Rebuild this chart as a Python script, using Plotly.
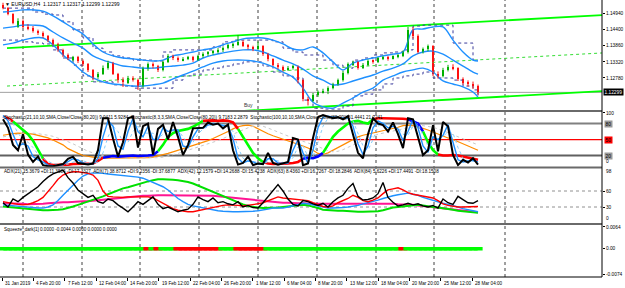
import plotly.graph_objects as go

# ---------------- data ----------------
date_labels = ["31 Jan 2019", "4 Feb 20:00", "7 Feb 12:00", "12 Feb 04:00", "14 Feb 20:00",
               "19 Feb 12:00", "22 Feb 04:00", "26 Feb 20:00", "1 Mar 12:00", "6 Mar 04:00",
               "8 Mar 20:00", "13 Mar 12:00", "18 Mar 04:00", "20 Mar 20:00", "25 Mar 12:00",
               "28 Mar 04:00"]

opens = [1.1524,1.1512,1.1492,1.1450,1.1470,1.1450,1.1444,1.1436,1.1428,1.1418,
         1.1404,1.1392,1.1372,1.1355,1.1338,1.1348,1.1335,1.1325,1.1305,1.1281,
         1.1292,1.1311,1.1328,1.1291,1.1271,1.1262,1.1279,1.1272,1.1250,1.1310,
         1.1325,1.1318,1.1305,1.1332,1.1350,1.1345,1.1338,1.1343,1.1348,1.1338,
         1.1350,1.1360,1.1362,1.1366,1.1372,1.1380,1.1388,1.1390,1.1400,1.1386,
         1.1382,1.1376,1.1385,1.1358,1.1340,1.1322,1.1314,1.1308,1.1312,1.1316,
         1.1270,1.1208,1.1202,1.1222,1.1230,1.1236,1.1244,1.1258,1.1270,1.1296,
         1.1324,1.1330,1.1312,1.1322,1.1336,1.1332,1.1344,1.1348,1.1344,1.1350,
         1.1352,1.1364,1.1438,1.1420,1.1366,1.1374,1.1384,1.1292,1.1284,1.1306,
         1.1316,1.1310,1.1274,1.1262,1.1258,1.1252]
highs = [1.1530,1.1516,1.1495,1.1478,1.1474,1.1458,1.1452,1.1440,1.1434,1.1422,
         1.1410,1.1396,1.1376,1.1360,1.1352,1.1352,1.1340,1.1328,1.1308,1.1298,
         1.1320,1.1336,1.1332,1.1295,1.1280,1.1285,1.1284,1.1276,1.1316,1.1330,
         1.1330,1.1322,1.1336,1.1358,1.1356,1.1350,1.1348,1.1352,1.1352,1.1356,
         1.1364,1.1368,1.1372,1.1378,1.1384,1.1392,1.1396,1.1422,1.1404,1.1392,
         1.1386,1.1400,1.1388,1.1362,1.1344,1.1328,1.1320,1.1318,1.1322,1.1320,
         1.1274,1.1215,1.1228,1.1236,1.1242,1.1250,1.1262,1.1276,1.1302,1.1330,
         1.1336,1.1334,1.1328,1.1340,1.1340,1.1348,1.1352,1.1352,1.1354,1.1358,
         1.1370,1.1449,1.1448,1.1424,1.1380,1.1390,1.1388,1.1300,1.1312,1.1322,
         1.1324,1.1314,1.1280,1.1270,1.1266,1.1256]
lows = [1.1508,1.1488,1.1458,1.1446,1.1445,1.1438,1.1430,1.1422,1.1412,1.1398,
        1.1386,1.1366,1.1348,1.1338,1.1334,1.1328,1.1318,1.1298,1.1271,1.1275,
        1.1288,1.1306,1.1288,1.1262,1.1248,1.1258,1.1266,1.1238,1.1246,1.1302,
        1.1310,1.1298,1.1300,1.1328,1.1338,1.1332,1.1334,1.1338,1.1332,1.1335,
        1.1346,1.1352,1.1356,1.1360,1.1365,1.1374,1.1378,1.1386,1.1382,1.1374,
        1.1368,1.1372,1.1352,1.1334,1.1318,1.1308,1.1300,1.1302,1.1306,1.1260,
        1.1200,1.1186,1.1198,1.1215,1.1226,1.1224,1.1240,1.1252,1.1266,1.1290,
        1.1318,1.1306,1.1308,1.1318,1.1326,1.1328,1.1338,1.1336,1.1340,1.1344,
        1.1348,1.1360,1.1410,1.1360,1.1360,1.1368,1.1284,1.1276,1.1280,1.1300,
        1.1304,1.1268,1.1256,1.1250,1.1242,1.1222]
closes = [1.1512,1.1492,1.1463,1.1470,1.1450,1.1444,1.1436,1.1428,1.1418,1.1404,
          1.1392,1.1372,1.1355,1.1345,1.1348,1.1335,1.1325,1.1305,1.1281,1.1292,
          1.1311,1.1328,1.1291,1.1271,1.1265,1.1279,1.1272,1.1250,1.1310,1.1325,
          1.1318,1.1305,1.1332,1.1350,1.1345,1.1338,1.1343,1.1348,1.1338,1.1350,
          1.1360,1.1362,1.1366,1.1372,1.1380,1.1388,1.1390,1.1400,1.1386,1.1382,
          1.1376,1.1385,1.1358,1.1340,1.1322,1.1314,1.1308,1.1312,1.1316,1.1270,
          1.1208,1.1202,1.1222,1.1230,1.1236,1.1244,1.1258,1.1270,1.1296,1.1324,
          1.1330,1.1312,1.1322,1.1336,1.1332,1.1344,1.1348,1.1344,1.1350,1.1352,
          1.1364,1.1438,1.1420,1.1366,1.1374,1.1384,1.1292,1.1284,1.1306,1.1316,
          1.1310,1.1274,1.1262,1.1258,1.1252,1.12299]

# Bollinger bands (sampled every second candle + last)
bb_upper = [1.1499,1.1502,1.1506,1.1506,1.1502,1.1486,1.1466,1.1445,1.1425,1.1392,
            1.1365,1.1352,1.1345,1.1342,1.1338,1.1335,1.1338,1.1352,1.1358,1.1365,
            1.1372,1.1378,1.1389,1.1399,1.1409,1.1412,1.1412,1.1405,1.1392,1.1375,
            1.1372,1.1382,1.1362,1.1332,1.1305,1.1328,1.1338,1.1345,1.1352,1.1358,
            1.1365,1.1439,1.1442,1.1449,1.1449,1.1405,1.1365,1.1338,1.1335]
bb_mid = [1.1445,1.1449,1.1455,1.1455,1.1452,1.1432,1.1412,1.1395,1.1378,1.1352,
          1.1338,1.1328,1.1318,1.1315,1.1311,1.1311,1.1315,1.1318,1.1321,1.1328,
          1.1345,1.1355,1.1362,1.1368,1.1372,1.1372,1.1365,1.1352,1.1338,1.1325,
          1.1308,1.1285,1.1271,1.1255,1.1258,1.1268,1.1278,1.1288,1.1301,1.1311,
          1.1325,1.1352,1.1365,1.1368,1.1358,1.1338,1.1318,1.1298,1.1291]
bb_lower = [1.1389,1.1395,1.1405,1.1412,1.1412,1.1389,1.1355,1.1328,1.1298,1.1278,
            1.1265,1.1258,1.1255,1.1251,1.1251,1.1255,1.1261,1.1275,1.1288,1.1301,
            1.1315,1.1328,1.1335,1.1338,1.1338,1.1335,1.1328,1.1315,1.1298,1.1281,
            1.1244,1.1197,1.1181,1.1177,1.1194,1.1211,1.1231,1.1244,1.1271,1.1285,
            1.1298,1.1305,1.1311,1.1298,1.1268,1.1258,1.1248,1.1231,1.1214]
env_upper = [1.1512,1.1512,1.1512,1.1499,1.1492,1.1489,1.1466,1.1439,1.1412,1.1378,
             1.1365,1.1352,1.1345,1.1338,1.1338,1.1335,1.1365,1.1372,1.1372,1.1372,
             1.1372,1.1382,1.1399,1.1405,1.1405,1.1405,1.1405,1.1399,1.1378,1.1365,
             1.1355,1.1355,1.1338,1.1321,1.1311,1.1338,1.1345,1.1355,1.1362,1.1365,
             1.1372,1.1452,1.1455,1.1455,1.1455,1.1395,1.1395,1.1338,1.1338]
env_lower = [1.1405,1.1405,1.1399,1.1395,1.1392,1.1372,1.1345,1.1321,1.1285,1.1265,
             1.1265,1.1255,1.1251,1.1244,1.1244,1.1244,1.1244,1.1271,1.1285,1.1291,
             1.1305,1.1311,1.1318,1.1325,1.1332,1.1332,1.1318,1.1298,1.1285,1.1278,
             1.1204,1.1177,1.1174,1.1174,1.1184,1.1218,1.1224,1.1238,1.1258,1.1278,
             1.1285,1.1291,1.1298,1.1278,1.1278,1.1271,1.1251,1.1238,1.1218]

# trend channel (anchor bar index, prices)
chan_x = [0.8, 120.0]
chan_upper = [1.1378, 1.1489]
chan_mid = [1.1251, 1.1362]
chan_lower = [1.1124, 1.1234]
last_price = 1.12299

# Stochastic window
stoch_fast = [88,72,40,30,60,22,8,18,2,0, 0,2,4,14,18,6,4,3,5,30,
              90,90,52,18,45,90,93,35,75,80, 22,70,78,50,83,55,21,40,71,72,
              72,82,78,80,71,78,30,3,6,18, 2,5,4,25,6,3,6,8,53,50,
              2,5,53,92,96,93,90,92,88,94, 58,25,15,60,90,80,77,65,82,60,
              34,90,88,55,21,30,77,28,83,75, 21,2,12,7,15,3]
stoch_fast_sig = [95,85,60,38,42,38,18,12,8,2, 1,1,3,8,14,12,6,4,4,15,
                  55,85,75,38,32,65,90,65,55,75, 50,50,72,65,68,68,38,35,55,70,
                  72,77,80,79,76,76,52,15,6,10, 8,4,4,14,14,6,5,6,30,50,
                  25,5,30,72,92,94,92,91,90,91, 75,42,22,38,72,85,80,72,75,70,
                  48,65,88,72,38,26,55,50,58,78, 45,12,8,9,11,8]
stoch_fast_sig2 = [92,90,80,62,50,45,35,22,15,9, 5,3,2,4,8,11,10,7,5,8,
                   25,55,75,65,45,45,65,75,62,62, 62,52,60,66,66,68,55,42,45,60,
                   70,74,78,80,78,76,65,35,15,10, 9,7,5,8,12,10,7,6,16,36,
                   38,18,18,45,75,90,93,92,91,90, 85,62,38,30,50,75,82,78,75,72,
                   60,58,75,80,58,38,40,50,55,65, 62,35,15,10,9,10]
stoch_mid = [93,90,84,76,68,60,48,32,14,4, 2,2,2,3,4,4,4,4,5,10,
             16,18,19,18,19,20,20,19,19,20, 21,28,40,55,62,66,68,70,74,80,
             85,86,86,85,86,85,82,70,55,40, 25,15,8,5,4,4,4,5,6,8,
             14,16,15,18,25,40,55,65,72,80, 84,85,82,80,88,90,90,90,89,90,
             89,88,84,80,65,45,30,22,20,20, 21,20,18,16,14,12]
stoch_mid_state = ("rr" + "gggggg" + "rrrrrrrrrrrr" + "bbbbbbbbbbb" + "ggggggggg" +
                   "rrrrrrr" + "ggggg" + "rrrrrrrr" + "bbbb" + "gggggggggg" +
                   "rrrrrrr" + "bbb" + "ggg" + "rrrrrrrrr")
stoch_slow = [58,60,61,62,62,61,60,58,56,53, 49,45,40,33,28,24,20,18,17,16,
              15,15,15,15,15,15,15,16,16,16, 17,19,21,24,27,30,33,36,39,41,
              44,48,52,56,60,65,70,74,76,77, 75,70,65,61,57,54,50,47,45,42,
              38,34,30,24,22,25,30,35,40,45, 50,55,58,60,62,64,66,68,70,73,
              76,77,76,74,71,68,64,60,57,53, 50,46,42,38,34,30]
stoch_slow_sig = [55,57,58,60,61,62,62,61,60,58, 56,53,50,46,42,37,32,28,25,22,
                  20,18,17,16,16,15,15,15,15,16, 16,16,17,19,21,24,27,30,33,36,
                  39,41,44,48,52,56,60,65,69,72, 75,76,75,72,68,64,60,56,53,50,
                  47,44,41,37,33,29,27,28,31,35, 40,44,49,53,57,60,62,64,66,68,
                  70,72,74,76,76,75,73,70,67,63, 59,55,51,47,43,40]
stoch_levels = [80, 50, 20]

# ADX window
adx_black = [38,30,45,40,48,55,62,68,78,86, 92,96,99,85,75,62,55,48,52,40,
             37,45,42,34,28,21,30,40,35,42, 49,35,27,30,25,21,24,26,35,49,
             44,40,47,38,40,36,34,40,30,33, 29,28,38,50,60,72,60,45,35,32,
             42,40,36,33,37,30,40,47,52,65, 74,50,43,44,47,55,76,48,39,32,
             34,37,34,36,32,30,33,28,45,38, 35,50,44,38,37,42]
adx_red = [40,38,36,35,34,35,38,42,48,58, 70,82,90,94,96,96,95,93,90,80,
           60,50,49,48,48,49,49,49,49,49, 47,42,37,32,27,24,22,21,21,23,
           26,28,30,31,33,34,34,33,32,33, 34,36,38,42,46,49,47,46,45,45,
           44,42,38,34,31,30,32,38,42,46, 52,48,42,40,43,47,55,62,64,66,
           62,57,54,52,50,48,47,42,36,33, 31,30,30,30,30,31]
adx_blue = [34,33,32,31,30,29,28,28,28,30, 34,42,52,62,72,80,88,92,94,94,
            93,92,91,90,90,89,88,86,84,80, 76,72,68,62,54,46,40,35,32,30,
            28,26,24,23,22,21,21,21,21,21, 22,23,24,26,28,28,28,30,32,35,
            37,36,34,32,29,28,28,28,29,30, 31,33,36,38,40,43,46,49,51,53,
            55,56,54,52,48,45,43,40,37,35, 33,30,27,25,23,21]
adx_green = [31,30,29,28,27,26,25,24,24,24, 24,25,26,28,31,34,37,40,43,47,
             50,54,58,62,65,67,70,73,76,78, 80,82,82,82,81,80,79,77,74,70,
             66,62,58,54,50,46,42,38,35,32, 30,29,28,28,28,29,30,31,32,33,
             34,33,31,28,25,24,24,23,23,22, 22,21,21,21,21,22,24,27,29,30,
             31,33,34,34,33,31,30,29,28,26, 25,23,22,21,20,19]
adx_magenta = [37,37,36,36,36,35,35,35,36,37, 38,38,39,39,40,40,41,41,42,42,
               43,44,45,46,47,48,49,50,51,51, 52,52,52,52,52,52,52,52,52,52,
               52,51,51,50,49,48,47,46,45,44, 43,42,41,40,40,39,38,38,37,37,
               37,36,36,36,36,36,36,36,36,36, 36,36,36,37,37,37,37,36,36,35,
               35,34,34,33,32,31,30,29,28,27, 26,25,24,22,21,20]

# Squeeze window (0 = green dot, 1 = red dot), all plotted at value 0
squeeze_state = [0,0,0,0,0,0,0,0,0,0, 0,0,0,0,0,0,0,0,0,0,
                 0,0,0,0,0,0,0,0,0,1, 0,1,0,0,0,1,1,1,1,1,
                 1,1,1,1,0,0,0,1,1,1, 1,1,1,0,0,0,0,0,0,0,
                 0,0,0,0,0,0,0,0,0,0, 0,0,0,0,0,0,0,0,0,0,
                 1,0,0,0,0,0,0,0,0,0, 0,0,0,0,0,0]
squeeze_value = [0.0] * len(squeeze_state)

price_ticks = [1.14940, 1.14400, 1.13860, 1.13320, 1.12780, 1.11700]

# ---------------- figure ----------------
W, H = 625, 288
ML, MR, MT, MB = 0, 23, 0, 11
PH = H - MT - MB           # plot height in px
N = len(closes)
idx = list(range(N))
bb_idx = list(range(0, N, 2)) + [N - 1]


def py(px):  # pixel row -> paper y
    return (PH - px) / PH


FONT = "Liberation Sans"
FS = 4.6
FSA = 4.8
UP, DN = "#00b000", "#ff1010"

fig = go.Figure()

# main panel
fig.add_trace(go.Scatter(x=chan_x, y=chan_mid, mode="lines",
                         line=dict(color="#33dd33", width=1, dash="dot"), yaxis="y"))
fig.add_trace(go.Scatter(x=chan_x, y=chan_upper, mode="lines",
                         line=dict(color="#00ff00", width=1.8), yaxis="y"))
fig.add_trace(go.Scatter(x=chan_x, y=chan_lower, mode="lines",
                         line=dict(color="#00ff00", width=1.8), yaxis="y"))
for env in (env_upper, env_lower):
    fig.add_trace(go.Scatter(x=bb_idx, y=env, mode="lines", line_shape="hv",
                             line=dict(color="#3c3c9c", width=1, dash="dot"), yaxis="y"))
for band in (bb_upper, bb_mid, bb_lower):
    fig.add_trace(go.Scatter(x=bb_idx, y=band, mode="lines", line_shape="spline",
                             line=dict(color="#1e90ff", width=1.4), yaxis="y"))

# candles: wicks + bodies
for is_up, col in ((True, UP), (False, DN)):
    sel = [i for i in idx if (closes[i] >= opens[i]) == is_up]
    wx, wy = [], []
    for i in sel:
        wx += [i, i, None]
        wy += [lows[i], highs[i], None]
    fig.add_trace(go.Scatter(x=wx, y=wy, mode="lines", line=dict(color=col, width=1),
                             yaxis="y", hoverinfo="skip"))
    fig.add_trace(go.Bar(x=sel, base=[min(opens[i], closes[i]) for i in sel],
                         y=[abs(closes[i] - opens[i]) for i in sel], width=0.5,
                         marker=dict(color=col, line=dict(width=0)), yaxis="y", hoverinfo="skip"))

# stochastic panel
fig.add_trace(go.Scatter(x=idx, y=stoch_slow, mode="lines", line=dict(color="#ff8c00", width=1.2), yaxis="y2"))
fig.add_trace(go.Scatter(x=idx, y=stoch_slow_sig, mode="lines",
                         line=dict(color="#c8c8c8", width=1, dash="dot"), yaxis="y2"))
state_col = {"r": "#ff0000", "g": "#00ff00", "b": "#0000ff"}
start = 0
for i in range(1, N + 1):
    if i == N or stoch_mid_state[i] != stoch_mid_state[start]:
        end = min(i, N - 1)
        fig.add_trace(go.Scatter(x=idx[start:end + 1], y=stoch_mid[start:end + 1], mode="lines",
                                 line=dict(color=state_col[stoch_mid_state[start]], width=2.6),
                                 yaxis="y2"))
        start = i
fig.add_trace(go.Scatter(x=idx, y=stoch_fast_sig2, mode="lines",
                         line=dict(color="#87cefa", width=1, dash="dot"), yaxis="y2"))
fig.add_trace(go.Scatter(x=idx, y=stoch_fast_sig, mode="lines",
                         line=dict(color="#1e90ff", width=1.4), yaxis="y2"))
fig.add_trace(go.Scatter(x=idx, y=stoch_fast, mode="lines",
                         line=dict(color="#000000", width=2), yaxis="y2"))

# ADX panel
fig.add_trace(go.Scatter(x=idx, y=adx_magenta, mode="lines", line=dict(color="#ff1493", width=2), yaxis="y3"))
fig.add_trace(go.Scatter(x=idx, y=adx_green, mode="lines", line=dict(color="#00e000", width=2), yaxis="y3"))
fig.add_trace(go.Scatter(x=idx, y=adx_blue, mode="lines", line=dict(color="#1e90ff", width=1.4), yaxis="y3"))
fig.add_trace(go.Scatter(x=idx, y=adx_red, mode="lines", line=dict(color="#ff0000", width=1.4), yaxis="y3"))
fig.add_trace(go.Scatter(x=idx, y=adx_black, mode="lines", line=dict(color="#000000", width=1.4), yaxis="y3"))

# squeeze panel
fig.add_trace(go.Scatter(x=idx, y=squeeze_value, mode="markers", yaxis="y4",
                         marker=dict(symbol="line-ew", size=6.6,
                                     line=dict(width=3.5,
                                               color=["#ff0000" if s else "#00ff00" for s in squeeze_state]))))

# ---------------- layout ----------------
label_pos = [-0.2 + 6.267 * j for j in range(len(date_labels))]
grid_x = [4.0, 15.8, 27.4, 39.2, 51.0, 62.8, 74.6, 86.2, 100.4]

axis_common = dict(showgrid=False, zeroline=False, side="right", anchor="x",
                   ticks="outside", ticklen=2, tickcolor="#000", automargin=False,
                   tickfont=dict(family=FONT, size=FSA, color="#000"), fixedrange=True)

shapes = []
for gx in grid_x:
    shapes.append(dict(type="line", xref="x", yref="paper", x0=gx, x1=gx, y0=0, y1=1,
                       line=dict(color="#404040", width=1, dash="dot"), layer="below"))
shapes.append(dict(type="line", xref="paper", yref="y", x0=0, x1=1, y0=last_price, y1=last_price,
                   line=dict(color="#a0a0a0", width=1), layer="below"))
for lv, col, wd in zip(stoch_levels, ["#808080", "#ff0000", "#606060"], [2, 1.3, 2]):
    shapes.append(dict(type="line", xref="paper", yref="y2", x0=0, x1=1, y0=lv, y1=lv,
                       line=dict(color=col, width=wd), layer="below"))
for lv in (60, 30):
    shapes.append(dict(type="line", xref="paper", yref="y3", x0=0, x1=1, y0=lv, y1=lv,
                       line=dict(color="#909090", width=1, dash="dot"), layer="below"))
for sp in (111, 167.6, 223.9):
    shapes.append(dict(type="line", xref="paper", yref="paper", x0=0, x1=1, y0=py(sp), y1=py(sp),
                       line=dict(color="#6a6a6a", width=2)))
shapes.append(dict(type="line", xref="paper", yref="paper", x0=1, x1=1, y0=0, y1=1,
                   line=dict(color="#000", width=1)))
shapes.append(dict(type="line", xref="paper", yref="paper", x0=0, x1=1, y0=0, y1=0,
                   line=dict(color="#000", width=1)))

ann = []
txt = dict(family=FONT, size=FS, color="#000")
ann.append(dict(xref="paper", yref="paper", x=3 / 602, y=py(4), xanchor="left", yanchor="middle",
                text="▼ EURUSD,H4  1.12317 1.12317 1.12299 1.12299", showarrow=False,
                font=dict(family=FONT, size=5, color="#000")))
ann.append(dict(xref="paper", yref="paper", x=2 / 602, y=py(117.5), xanchor="left", yanchor="middle",
                text="Stochastic(21,10,10,SMA,Close/Close(80,20)) 9.0411 5.9284  "
                     "Stochastic(8,3,3,SMA,Close/Close(80,20)) 9.7183 2.2879  "
                     "Stochastic(100,10,10,SMA,Close/Close(80,20)) 31.4441 21.7241",
                showarrow=False, font=txt))
ann.append(dict(xref="paper", yref="paper", x=2 / 602, y=py(171.5), xanchor="left", yanchor="middle",
                text="ADX(21) 15.3679 +DI:11.3504 -DI:17.3327  ADX(7) 38.8712 +DI:9.2356 -DI:37.6877  "
                     "ADX(42) 12.1579 +DI:14.2688 -DI:15.4238  ADX(63) 8.4360 +DI:16.7267 -DI:18.2846  "
                     "ADX(84) 5.6226 +DI:17.4491 -DI:18.1508",
                showarrow=False, font=txt))
ann.append(dict(xref="paper", yref="paper", x=2 / 602, y=py(229.5), xanchor="left", yanchor="middle",
                text="Squeeze_dark[1] 0.0000 -0.0044 0.0000 0.0000 0.0000", showarrow=False, font=txt))
ann.append(dict(xref="x", yref="y", x=49, y=1.1187, text="Buy", showarrow=False,
                font=dict(family=FONT, size=5, color="#333")))
for lp, lab in zip(label_pos, date_labels):
    ann.append(dict(xref="x", yref="paper", x=lp, y=py(283), xanchor="left", yanchor="middle",
                    text=lab, showarrow=False, xshift=1, font=txt))
ann.append(dict(xref="paper", yref="y", x=1, y=last_price, xanchor="left", yanchor="middle",
                text="1.12299", showarrow=False, bgcolor="#000", borderpad=0.5, xshift=1,
                font=dict(family=FONT, size=FSA, color="#fff")))
for lv, bg, fc in zip(stoch_levels, ["#9a9a9a", "#ff0000", "#9a9a9a"], ["#000", "#000", "#000"]):
    ann.append(dict(xref="paper", yref="y2", x=1, y=lv, xanchor="left", yanchor="middle",
                    text=str(lv), showarrow=False, bgcolor=bg, borderpad=0.5, xshift=2,
                    font=dict(family=FONT, size=FSA, color=fc)))
for yref in ("y2", "y3"):
    ann.append(dict(xref="paper", yref=yref, x=1, y=0, xanchor="left", yanchor="bottom",
                    text="0", showarrow=False, xshift=2, font=dict(family=FONT, size=FSA, color="#000")))
ann.append(dict(xref="paper", yref="paper", x=1, y=py(172), xanchor="left", yanchor="middle",
                text="98", showarrow=False, xshift=2, font=dict(family=FONT, size=FSA, color="#000")))

fig.update_layout(
    width=W, height=H, margin=dict(l=ML, r=MR, t=MT, b=MB),
    paper_bgcolor="#fff", plot_bgcolor="#fff", showlegend=False, bargap=0,
    xaxis=dict(domain=[0, 1], range=[-0.6, 119.8], anchor="y4", showgrid=False, zeroline=False,
               showticklabels=False, ticks="outside", ticklen=3, tickcolor="#000",
               tickvals=label_pos, fixedrange=True),
    yaxis=dict(domain=[py(110), 1], range=[1.11708, 1.15392], tickvals=price_ticks,
               ticktext=[f"{v:.5f}" for v in price_ticks], **axis_common),
    yaxis2=dict(domain=[py(167), py(111.5)], range=[-1.5, 102.6], tickvals=[100],
                ticktext=["100"], **axis_common),
    yaxis3=dict(domain=[py(223), py(168.5)], range=[0, 102.2], tickvals=[60, 30],
                ticktext=["60", "30"], **axis_common),
    yaxis4=dict(domain=[0, py(224.5)], range=[-0.00828, 0.00713],
                tickvals=[0.0064, 0.0, -0.0074], ticktext=["0.0064", "0.00", "-0.0074"],
                **axis_common),
    shapes=shapes, annotations=ann,
)

fig.write_html("out.html")
